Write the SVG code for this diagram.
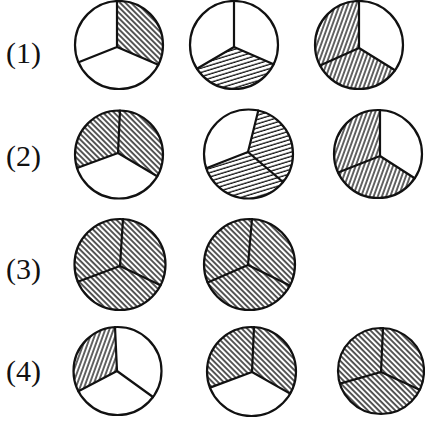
<svg xmlns="http://www.w3.org/2000/svg" width="425" height="421" viewBox="0 0 425 421">
<style>
.bg{fill:#fff}
.o{fill:none;stroke:#111;stroke-width:2.2}
.s{fill:none;stroke:#111;stroke-width:2.2;stroke-linejoin:round;stroke-linecap:round}
.lbl{font-family:"Liberation Serif","Times New Roman",serif;font-size:30px;fill:#111}
.b{fill:url(#hb)}
.f{fill:url(#hf)}
.h{fill:url(#hh)}
</style>
<defs>
<pattern id="hb" patternUnits="userSpaceOnUse" width="3.9" height="4" patternTransform="rotate(-45)">
<rect width="3.9" height="4" fill="#fff"/>
<line x1="1" y1="0" x2="1" y2="4" stroke="#111" stroke-width="1.4"/>
</pattern>
<pattern id="hf" patternUnits="userSpaceOnUse" width="3.9" height="4" patternTransform="rotate(20)">
<rect width="3.9" height="4" fill="#fff"/>
<line x1="1" y1="0" x2="1" y2="4" stroke="#111" stroke-width="1.3"/>
</pattern>
<pattern id="hh" patternUnits="userSpaceOnUse" width="4" height="4.1" patternTransform="rotate(-17)">
<rect width="4" height="4.1" fill="#fff"/>
<line x1="0" y1="1" x2="4" y2="1" stroke="#111" stroke-width="1.3"/>
</pattern>
</defs>
<rect class="bg" width="425" height="421"/>

<g id="labels">
<text class="lbl" x="6" y="63">(1)</text>
<text class="lbl" x="6" y="166">(2)</text>
<text class="lbl" x="6" y="279">(3)</text>
<text class="lbl" x="6" y="381">(4)</text>
</g>

<g id="r1c1">
<path class="b" d="M117 47 L117 1.05 A44 44 0 0 1 158.3 64.7 Z"/>
<circle class="o" cx="119" cy="45" r="44"/>
<polyline class="s" points="117,1 117,47 78.6,62.3"/>
<line class="s" x1="117" y1="47" x2="158.3" y2="64.7"/>
</g>

<g id="r1c2">
<path class="h" d="M234 47 L273.6 64.3 A44 44 0 0 1 196.9 68.7 Z"/>
<circle class="o" cx="234" cy="45" r="44"/>
<polyline class="s" points="234,1 234,47 196.9,68.7"/>
<line class="s" x1="234" y1="47" x2="273.6" y2="64.3"/>
</g>

<g id="r1c3">
<path class="f" d="M359 48 L320 65.4 A44 44 0 0 1 359 1 Z"/>
<path class="f" d="M359 48 L395 70.3 A44 44 0 0 1 320 65.4 Z"/>
<circle class="o" cx="359" cy="45" r="44"/>
<polyline class="s" points="359,1 359,48 320,65.4"/>
<line class="s" x1="359" y1="48" x2="395" y2="70.3"/>
</g>

<g id="r2c1">
<path class="b" d="M118 153 L77 168 A44 44 0 0 1 120 110.5 Z"/>
<path class="b" d="M118 153 L120 110.5 A44 44 0 0 1 157.2 176.2 Z"/>
<circle class="o" cx="119" cy="154.5" r="44"/>
<polyline class="s" points="120,110.5 118,153 77,168"/>
<line class="s" x1="118" y1="153" x2="157.2" y2="176.2"/>
</g>

<g id="r2c2">
<path class="h" d="M248 152 L258.3 110.5 A44.5 44.5 0 0 1 283 182 Z"/>
<path class="h" d="M248 152 L283 182 A44.5 44.5 0 0 1 206.3 168.2 Z"/>
<circle class="o" cx="248.5" cy="154" r="44.5"/>
<polyline class="s" points="258.3,110.5 248,152 206.3,168.2"/>
<line class="s" x1="248" y1="152" x2="283" y2="182"/>
</g>

<g id="r2c3">
<path class="f" d="M380 156 L338.1 172.5 A44 44 0 0 1 380 110 Z"/>
<path class="f" d="M380 156 L414.7 178.2 A44 44 0 0 1 338.1 172.5 Z"/>
<circle class="o" cx="378" cy="154" r="44"/>
<polyline class="s" points="380,110 380,156 338.1,172.5"/>
<line class="s" x1="380" y1="156" x2="414.7" y2="178.2"/>
</g>

<g id="r3c1">
<circle class="b" cx="120" cy="264.5" r="45.5"/>
<circle class="o" cx="120" cy="264.5" r="45.5"/>
<polyline class="s" points="123,219.1 120,266 77.8,281.7"/>
<line class="s" x1="120" y1="266" x2="160.5" y2="285.3"/>
</g>

<g id="r3c2">
<circle class="b" cx="249.5" cy="264.5" r="45.5"/>
<circle class="o" cx="249.5" cy="264.5" r="45.5"/>
<polyline class="s" points="252,219 248,265 207.7,282.5"/>
<line class="s" x1="248" y1="265" x2="289.8" y2="285.5"/>
</g>

<g id="r4c1">
<path class="f" d="M117 371 L78.4 391.3 A44 44 0 0 1 115 327 Z"/>
<circle class="o" cx="117.5" cy="371" r="44"/>
<polyline class="s" points="115,327 117,371 78.4,391.3"/>
<line class="s" x1="117" y1="371" x2="153" y2="397"/>
</g>

<g id="r4c2">
<path class="b" d="M252 372 L210 387.6 A44.5 44.5 0 0 1 254 327 Z"/>
<path class="b" d="M252 372 L254 327 A44.5 44.5 0 0 1 290.1 393.6 Z"/>
<circle class="o" cx="251.5" cy="371.5" r="44.5"/>
<polyline class="s" points="254,327 252,372 210,387.6"/>
<line class="s" x1="252" y1="372" x2="290.1" y2="393.6"/>
</g>

<g id="r4c3">
<circle class="b" cx="381" cy="371" r="43"/>
<circle class="o" cx="381" cy="371" r="43"/>
<polyline class="s" points="383,328 381,372 339.9,383.6"/>
<line class="s" x1="381" y1="372" x2="419.6" y2="389.8"/>
</g>
</svg>
